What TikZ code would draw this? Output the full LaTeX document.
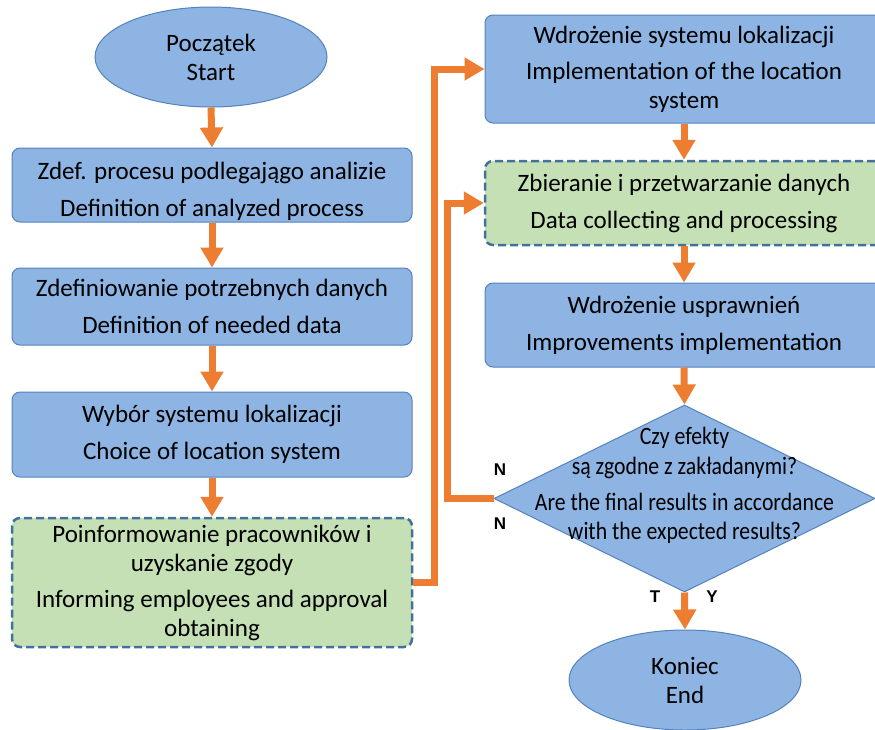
\documentclass[tikz,border=0pt]{standalone}
\usepackage{fontspec}
\setmainfont{Carlito}
\newfontfamily\condfont[FakeStretch=0.87]{Carlito}
\newfontfamily\lblfont{Liberation Sans}
\usetikzlibrary{shapes.geometric,arrows.meta}
\definecolor{fillblue}{RGB}{142,180,227}
\definecolor{bordblue}{RGB}{84,130,190}
\definecolor{fillgreen}{RGB}{197,224,180}
\definecolor{dashblue}{RGB}{65,113,156}
\definecolor{arrorange}{RGB}{237,125,49}
\begin{document}
\begin{tikzpicture}[x=1pt,y=-1pt,
  txt/.style={align=center, font=\fontsize{25}{29}\selectfont, inner sep=0pt},
  blbox/.style={txt, rectangle, rounded corners=8pt, draw=bordblue, line width=1pt, fill=fillblue},
  grbox/.style={txt, rectangle, rounded corners=8pt, draw=dashblue, line width=2.5pt, dash pattern=on 8pt off 4pt, fill=fillgreen},
  term/.style={txt, ellipse, draw=bordblue, line width=1pt, fill=fillblue, minimum width=232pt, minimum height=100pt},
  arr/.style={draw=arrorange, line width=7pt, -{Triangle[width=22pt,length=20pt]}},
  loop/.style={draw=arrorange, line width=7pt, -{Triangle[width=22pt,length=20pt]}, line join=miter},
  lbl/.style={font=\lblfont\bfseries\fontsize{17}{20}\selectfont, inner sep=0pt}
]
\useasboundingbox (0,0) rectangle (875,729);

\node[term] (start) at (211,57) {Początek\\Start};
\node[blbox, minimum width=400pt, minimum height=74pt] (b1) at (212,185)
  {\rule{0pt}{30pt}Zdef. procesu podlegajągo analizie\\[8pt]Definition of analyzed process};
\node[blbox, minimum width=400pt, minimum height=77pt] (b2) at (212,306.5)
  {Zdefiniowanie potrzebnych danych\\[8pt]Definition of needed data};
\node[blbox, minimum width=400pt, minimum height=85pt] (b3) at (212,434.5)
  {Wybór systemu lokalizacji\\[8pt]Choice of location system};
\node[grbox, minimum width=400pt, minimum height=129pt] (b4) at (212,582.5)
  {Poinformowanie pracowników i\\uzyskanie zgody\\[7pt]Informing employees and approval\\obtaining};

\node[blbox, minimum width=398pt, minimum height=108pt] (b5) at (684,69)
  {Wdrożenie systemu lokalizacji\\[7pt]Implementation of the location\\system};
\node[grbox, minimum width=398pt, minimum height=84pt] (b6) at (684,203)
  {Zbieranie i przetwarzanie danych\\[8pt]Data collecting and processing};
\node[blbox, minimum width=398pt, minimum height=84pt] (b7) at (684,325)
  {Wdrożenie usprawnień\\[8pt]Improvements implementation};

\node[diamond, draw=bordblue, line width=1pt, fill=fillblue, minimum width=381pt, minimum height=187pt, inner sep=0pt] (dia) at (684.5,498.5) {};
\node[align=center, inner sep=0pt, font=\condfont\fontsize{25}{29}\selectfont] (diatxt) at (684.5,485)
  {Czy efekty\\[1pt]są zgodne z zakładanymi?\\[7pt]Are the final results in accordance\\with the expected results?};

\node[term] (end) at (685,680) {Koniec\\End};

\draw[arr] (start.south) -- (b1.north);
\draw[arr] (b1.south) -- (b2.north);
\draw[arr] (b2.south) -- (b3.north);
\draw[arr] (b3.south) -- (b4.north);
\draw[arr] (b5.south) -- (b6.north);
\draw[arr] (b6.south) -- (b7.north);
\draw[arr] (b7.south) -- (dia.north);
\draw[arr] (dia.south) -- (end.north);
\draw[loop] (b4.east) -- ++(21,0) |- (b5.west);
\draw[loop] (dia.west) -- ++(-46,0) |- (b6.west);

\node[lbl] (n1) at (500,470) {N};
\node[lbl] (n2) at (500,524) {N};
\node[lbl] (t) at (655,597) {T};
\node[lbl] (y) at (712,597) {Y};
\end{tikzpicture}
\end{document}
